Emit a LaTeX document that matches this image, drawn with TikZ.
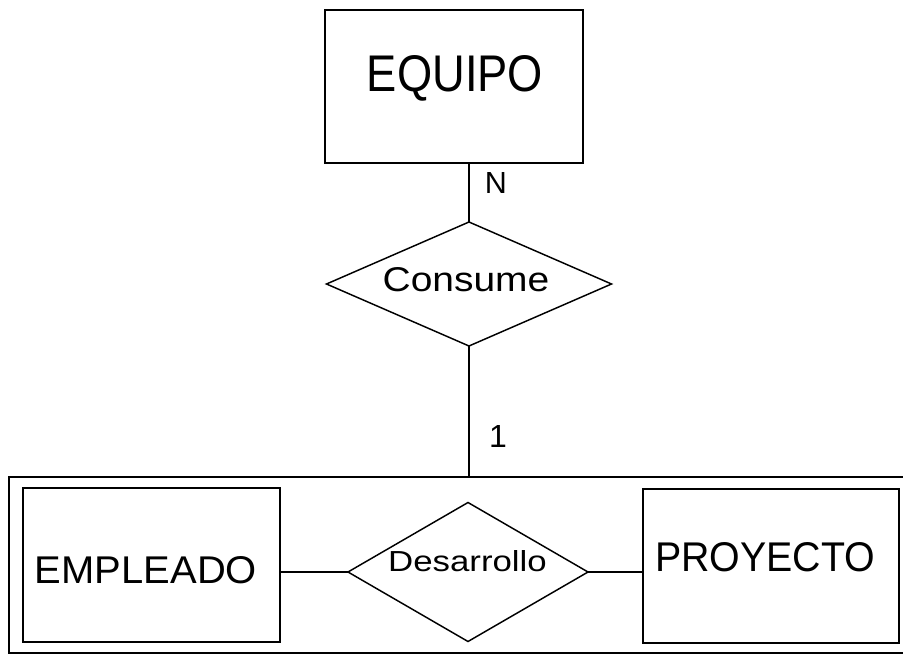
\documentclass[tikz,border=0pt]{standalone}
\usepackage{fontspec}
\setmainfont{Liberation Sans}
\usepackage{graphicx}
\usetikzlibrary{shapes.geometric}
\tikzset{
  ln/.style={line width=1.1pt, black},
  entity/.style={draw, ln, rectangle, inner sep=0pt, outer sep=0pt},
  relation/.style={draw, ln, diamond, inner sep=0pt, outer sep=0pt},
  lbl/.style={inner sep=0pt, outer sep=0pt, anchor=center}
}
\begin{document}
\begin{tikzpicture}[x=0.75pt, y=-0.75pt]
\useasboundingbox (0,0) rectangle (903,663);
\fill[white] (0,0) rectangle (903,663);
% shapes
\node[entity, minimum width=193.5pt, minimum height=114.75pt] (eq) at (454,86.5) {};
\node[relation, minimum width=213.75pt, minimum height=93pt] (con) at (469,284) {};
\node[entity, minimum width=675.75pt, minimum height=132pt] (agg) at (459.5,565) {};
\node[entity, minimum width=192.75pt, minimum height=115.5pt] (emp) at (151.5,565) {};
\node[entity, minimum width=192pt, minimum height=115.5pt] (pro) at (771,566) {};
\node[relation, minimum width=180pt, minimum height=104.25pt] (des) at (468,572) {};
% texts
\node[lbl] (teq) at (455,78) {\resizebox{132pt}{27pt}{EQUIPO}};
\node[lbl] (tcon) at (466,280) {\resizebox{125pt}{18pt}{Consume}};
\node[lbl] (temp) at (146,570) {\resizebox{166.5pt}{20.25pt}{EMPLEADO}};
\node[lbl] (tpro) at (765,557.5) {\resizebox{165pt}{21.75pt}{PROYECTO}};
\node[lbl] (tdes) at (467.5,561.5) {\resizebox{119pt}{15.75pt}{Desarrollo}};
\node[lbl] (n) at (496,183) {\resizebox{!}{15.75pt}{N}};
\node[lbl] (one) at (498,436) {\resizebox{!}{16.5pt}{1}};
% connectors
\draw[ln] (con.north |- eq.south) -- (con.north);
\draw[ln] (con.south) -- (con.south |- agg.north);
\draw[ln] (des.west -| emp.east) -- (des.west);
\draw[ln] (des.east) -- (des.east -| pro.west);
\end{tikzpicture}
\end{document}
